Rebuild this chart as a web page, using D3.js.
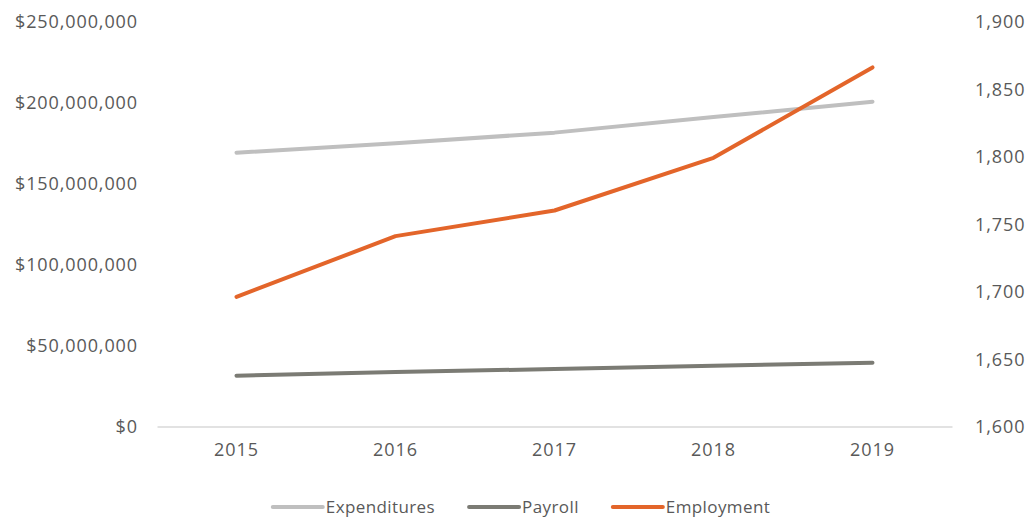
<!DOCTYPE html>
<html>
<head>
<meta charset="utf-8">
<script src="https://cdn.jsdelivr.net/npm/d3@7"></script>
<style>
  html, body { margin: 0; padding: 0; background: #ffffff; }
  svg { display: block; }
  text { font-family: "Open Sans", "Noto Sans", sans-serif; fill: #595959; }
</style>
</head>
<body>
<svg id="chart" width="1029" height="518"></svg>
<script>
// Years on the category axis
const years = ["2015", "2016", "2017", "2018", "2019"];

// Dollar series (left axis)
const expenditures = [169000000, 174800000, 181400000, 191000000, 200500000];
const payroll = [31400000, 33600000, 35500000, 37500000, 39400000];

// Headcount series (right axis)
const employment = [1696, 1741, 1760, 1799, 1866];

// Axis ticks
const leftTicks = [0, 50000000, 100000000, 150000000, 200000000, 250000000];
const rightTicks = [1600, 1650, 1700, 1750, 1800, 1850, 1900];

const seriesNames = ["Expenditures", "Payroll", "Employment"];
const seriesColors = ["#bfbfbf", "#7b7b74", "#e3652a"];

const svg = d3.select("#chart");

const plotLeft = 157, plotRight = 952, plotTop = 21.5, plotBottom = 426.5;

const x = d3.scaleBand().domain(years).range([plotLeft, plotRight]);
const yLeft = d3.scaleLinear().domain([0, 250000000]).range([plotBottom, plotTop]);
const yRight = d3.scaleLinear().domain([1600, 1900]).range([plotBottom, plotTop]);

const fmtDollar = d => "$" + d3.format(",")(d);
const fmtCount = d3.format(",");

const labelStyle = sel => sel
  .style("font-size", "18px")
  .style("letter-spacing", "0.9px")
  .style("fill", "#595959")
  .style("font-family", "'Open Sans', sans-serif");

// Left axis labels
const leftAxis = d3.axisLeft(yLeft).tickValues(leftTicks).tickFormat(fmtDollar).tickSize(0).tickPadding(0);
const gl = svg.append("g").attr("transform", "translate(138,0)").call(leftAxis);
gl.select(".domain").remove();
gl.selectAll("text").attr("dy", "0.35em").call(labelStyle);

// Right axis labels
const rightAxis = d3.axisRight(yRight).tickValues(rightTicks).tickFormat(fmtCount).tickSize(0).tickPadding(0);
const gr = svg.append("g").attr("transform", "translate(975,0)").call(rightAxis);
gr.select(".domain").remove();
gr.selectAll("text").attr("dy", "0.35em").call(labelStyle);

// Category axis
const bottomAxis = d3.axisBottom(x).tickSize(0).tickPadding(0);
const gb = svg.append("g").attr("transform", `translate(0,${plotBottom})`).call(bottomAxis);
gb.select(".domain").attr("stroke", "#d9d9d9").attr("stroke-width", 1.5);
gb.selectAll("text").attr("y", 29).attr("dy", "0").call(labelStyle);

const cx = d => x(d) + x.bandwidth() / 2;

function drawLine(values, scale, color) {
  const line = d3.line().x((d, i) => cx(years[i])).y(d => scale(d));
  svg.append("path")
    .datum(values)
    .attr("d", line)
    .attr("fill", "none")
    .attr("stroke", color)
    .attr("stroke-width", 4)
    .attr("stroke-linecap", "round")
    .attr("stroke-linejoin", "round");
}

drawLine(expenditures, yLeft, seriesColors[0]);
drawLine(payroll, yLeft, seriesColors[1]);
drawLine(employment, yRight, seriesColors[2]);

// Legend
const legend = svg.append("g");
const lineLen = 50, textGap = 3, itemGap = 34, legendY = 507;
const items = seriesNames.map((name, i) => {
  const g = legend.append("g");
  g.append("line").attr("x1", 0).attr("x2", lineLen).attr("y1", 0).attr("y2", 0)
    .attr("stroke", seriesColors[i]).attr("stroke-width", 4).attr("stroke-linecap", "round");
  const t = g.append("text").attr("x", lineLen + textGap).attr("y", 0).attr("dy", "0.35em")
    .style("font-size", "17px").style("letter-spacing", "0.4px").text(name);
  return { g, w: lineLen + textGap + t.node().getComputedTextLength() };
});
const total = d3.sum(items, d => d.w) + itemGap * (items.length - 1);
let pos = 521.5 - total / 2;
items.forEach(it => {
  it.g.attr("transform", `translate(${pos},${legendY})`);
  pos += it.w + itemGap;
});
</script>
</body>
</html>
